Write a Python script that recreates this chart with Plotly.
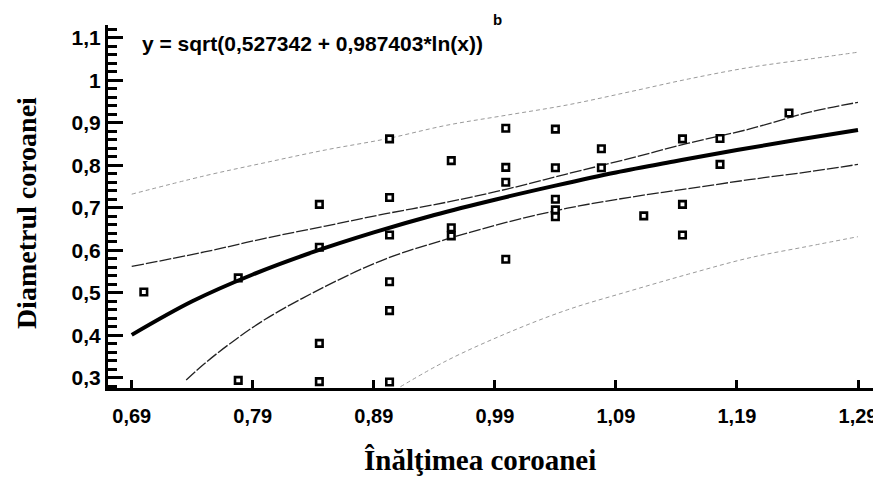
import plotly.graph_objects as go

# observed points (crown height vs crown diameter)
height_obs = [0.700, 0.778, 0.778, 0.845, 0.845, 0.845, 0.845, 0.903, 0.903, 0.903,
              0.903, 0.903, 0.903, 0.954, 0.954, 0.954, 0.999, 0.999, 0.999, 0.999,
              1.040, 1.040, 1.040, 1.040, 1.040, 1.078, 1.078, 1.113, 1.145, 1.145,
              1.145, 1.176, 1.176, 1.233]
diam_obs = [0.502, 0.535, 0.294, 0.708, 0.607, 0.381, 0.291, 0.862, 0.724, 0.636,
            0.526, 0.458, 0.290, 0.811, 0.653, 0.634, 0.887, 0.795, 0.760, 0.579,
            0.885, 0.794, 0.720, 0.695, 0.679, 0.839, 0.794, 0.681, 0.862, 0.708,
            0.636, 0.863, 0.802, 0.923]

# fitted curve
fit_x = [0.69, 0.74, 0.79, 0.84, 0.89, 0.94, 0.99, 1.04, 1.09, 1.14, 1.19, 1.24, 1.29]
fit_y = [0.401, 0.480, 0.543, 0.596, 0.642, 0.683, 0.719, 0.752, 0.783, 0.810, 0.836, 0.860, 0.883]

# confidence limits
conf_hi_x = [0.69, 0.75, 0.80, 0.85, 0.90, 0.95, 1.00, 1.05, 1.10, 1.15, 1.20, 1.25, 1.29]
conf_hi_y = [0.562, 0.596, 0.628, 0.657, 0.686, 0.713, 0.744, 0.780, 0.815, 0.852, 0.885, 0.925, 0.948]
conf_lo_x = [0.735, 0.75, 0.77, 0.80, 0.85, 0.90, 0.95, 1.00, 1.05, 1.10, 1.15, 1.20, 1.25, 1.29]
conf_lo_y = [0.295, 0.333, 0.378, 0.437, 0.515, 0.580, 0.626, 0.666, 0.699, 0.724, 0.745, 0.766, 0.785, 0.802]

# prediction limits
pred_hi_x = [0.69, 0.75, 0.80, 0.85, 0.90, 0.95, 1.00, 1.05, 1.10, 1.15, 1.20, 1.25, 1.29]
pred_hi_y = [0.732, 0.775, 0.806, 0.836, 0.862, 0.894, 0.918, 0.942, 0.972, 1.003, 1.030, 1.050, 1.066]
pred_lo_x = [0.912, 0.95, 1.00, 1.05, 1.10, 1.15, 1.20, 1.25, 1.29]
pred_lo_y = [0.279, 0.340, 0.405, 0.460, 0.503, 0.544, 0.582, 0.610, 0.632]

x_ticks = [0.69, 0.79, 0.89, 0.99, 1.09, 1.19, 1.29]
x_labels = ["0,69", "0,79", "0,89", "0,99", "1,09", "1,19", "1,29"]
y_ticks = [0.3, 0.4, 0.5, 0.6, 0.7, 0.8, 0.9, 1.0, 1.1]
y_labels = ["0,3", "0,4", "0,5", "0,6", "0,7", "0,8", "0,9", "1", "1,1"]

SANS = "Liberation Sans"
SERIF = "Liberation Serif"

fig = go.Figure()
fig.add_trace(go.Scatter(x=pred_hi_x, y=pred_hi_y, mode="lines", line_shape="spline",
                         line=dict(color="#9a9a9a", width=1, dash="4px,3px")))
fig.add_trace(go.Scatter(x=pred_lo_x, y=pred_lo_y, mode="lines", line_shape="spline",
                         line=dict(color="#9a9a9a", width=1, dash="4px,3px")))
fig.add_trace(go.Scatter(x=conf_hi_x, y=conf_hi_y, mode="lines", line_shape="spline",
                         line=dict(color="#222", width=1.3, dash="12px,2px")))
fig.add_trace(go.Scatter(x=conf_lo_x, y=conf_lo_y, mode="lines", line_shape="spline",
                         line=dict(color="#222", width=1.3, dash="12px,2px")))
fig.add_trace(go.Scatter(x=height_obs, y=diam_obs, mode="markers",
                         marker=dict(symbol="square", size=6.5, color="white",
                                     line=dict(color="black", width=2.6))))
fig.add_trace(go.Scatter(x=fit_x, y=fit_y, mode="lines", line_shape="spline",
                         line=dict(color="black", width=4)))

# page has an 8px body margin, so the figure is made smaller than the window
fig.update_layout(
    width=873, height=470, showlegend=False,
    margin=dict(l=100, r=0, t=17, b=90),
    plot_bgcolor="white", paper_bgcolor="white",
    xaxis=dict(range=[0.6704, 1.309], tickvals=x_ticks, ticktext=x_labels,
               showgrid=False, zeroline=False, showline=True, linewidth=3, linecolor="black",
               ticks="inside", ticklen=8, tickwidth=3, tickcolor="black", ticklabelstandoff=8,
               ticklabeloverflow="allow",
               tickfont=dict(family=SANS, size=20, color="black", weight="bold")),
    yaxis=dict(range=[0.276, 1.13], tickvals=y_ticks, ticktext=y_labels,
               showgrid=False, zeroline=False, showline=True, linewidth=3, linecolor="black",
               ticks="inside", ticklen=15, tickwidth=3, tickcolor="black",
               minor=dict(ticks="inside", ticklen=9, tickwidth=3, tickcolor="black",
                          tick0=0.3, dtick=0.02),
               tickfont=dict(family=SANS, size=21, color="black", weight="bold")),
)

fig.add_annotation(text="y = sqrt(0,527342 + 0,987403*ln(x))", xref="paper", yref="paper",
                   x=0.0414, y=0.9504, xanchor="left", yanchor="middle", showarrow=False,
                   font=dict(family=SANS, size=21, color="black", weight="bold"))
fig.add_annotation(text="b", xref="paper", yref="paper", x=0.5045, y=1.0152,
                   xanchor="center", yanchor="middle", showarrow=False,
                   font=dict(family=SANS, size=15, color="black", weight="bold"))
fig.add_annotation(text="Diametrul coroanei", xref="paper", yref="paper", x=-0.106, y=0.482,
                   textangle=-90, xanchor="center", yanchor="middle", showarrow=False,
                   font=dict(family=SERIF, size=28, color="black", weight="bold"))
fig.add_annotation(text="Înălţimea coroanei", xref="paper", yref="paper", x=0.481, y=-0.198,
                   xanchor="center", yanchor="middle", showarrow=False,
                   font=dict(family=SERIF, size=29, color="black", weight="bold"))

fig.write_html("out.html")
